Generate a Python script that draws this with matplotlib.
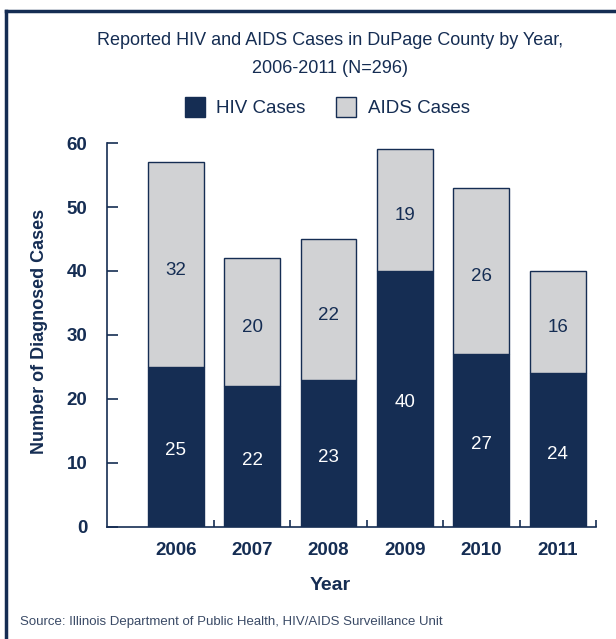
import matplotlib.pyplot as plt
from matplotlib.lines import Line2D
import numpy as np

years = ["2006", "2007", "2008", "2009", "2010", "2011"]
hiv = [25, 22, 23, 40, 27, 24]
aids = [32, 20, 22, 19, 26, 16]

navy = "#152d53"
grey = "#d1d2d4"
fnt = ["Liberation Sans", "DejaVu Sans"]

fig = plt.figure(figsize=(6.16, 6.39), dpi=100)
ax = fig.add_axes([0.1737, 0.1753, 0.7938, 0.6009])

x = np.arange(len(years))
w = 0.73
ax.bar(x, hiv, w, color=navy, edgecolor=navy, linewidth=1, label="HIV Cases")
ax.bar(x, aids, w, bottom=hiv, color=grey, edgecolor=navy, linewidth=1, label="AIDS Cases")

for i in range(len(years)):
    ax.text(x[i], hiv[i] / 2 - 0.6, str(hiv[i]), ha="center", va="center",
            color="white", fontsize=13.5, family=fnt)
    ax.text(x[i], hiv[i] + aids[i] / 2 - 0.9, str(aids[i]), ha="center", va="center",
            color=navy, fontsize=13.5, family=fnt)

ax.set_xlim(-0.9, 5.5)
ax.set_ylim(0, 60)
ax.spines["top"].set_visible(False)
ax.spines["right"].set_visible(False)
for s in ["left", "bottom"]:
    ax.spines[s].set_color(navy)
    ax.spines[s].set_linewidth(1.2)

ax.set_yticks(range(0, 61, 10))
ax.set_xticks(x + 0.5)
ax.set_xticklabels([])
ax.set_xticks(x, minor=True)
ax.set_xticklabels(years, minor=True)
ax.tick_params(axis="x", which="major", direction="in", length=5, color=navy, width=1.2)
ax.tick_params(axis="x", which="minor", length=0, pad=11)
ax.tick_params(axis="y", direction="in", length=8, color=navy, width=1.2, pad=14)
for lab in ax.get_xticklabels(minor=True) + ax.get_yticklabels():
    lab.set_family(fnt)
    lab.set_fontsize(13.5)
    lab.set_fontweight("bold")
    lab.set_color(navy)

ax.set_xlabel("Year", family=fnt, fontsize=14, fontweight="bold", color=navy)
ax.xaxis.set_label_coords(0.456, -0.13)
ax.set_ylabel("Number of Diagnosed Cases", family=fnt, fontsize=13, fontweight="bold",
              color=navy)
ax.yaxis.set_label_coords(-0.12, 0.51)

fig.text(0.536, 0.936, "Reported HIV and AIDS Cases in DuPage County by Year,",
         ha="center", va="center", family=fnt, fontsize=13, color=navy)
fig.text(0.536, 0.893, "2006-2011 (N=296)", ha="center", va="center", family=fnt,
         fontsize=13, color=navy)

fig.legend(loc="center", bbox_to_anchor=(0.531, 0.832), ncol=2, frameon=False,
           prop={"family": fnt, "size": 13.5}, handlelength=1.1, handleheight=1.2,
           columnspacing=1.6, handletextpad=0.6, labelcolor=navy)

fig.text(0.032, 0.027, "Source: Illinois Department of Public Health, HIV/AIDS Surveillance Unit",
         ha="left", va="center", family=fnt, fontsize=9.5, color="#3a4a66")

# frame lines top and left
fig.add_artist(Line2D([0.0105, 1.0], [0.9825, 0.9825], color=navy, lw=2.5,
                      transform=fig.transFigure))
fig.add_artist(Line2D([0.0105, 0.0105], [0.0, 0.9825], color=navy, lw=2.5,
                      transform=fig.transFigure))

fig.savefig("out.png", dpi=100)
